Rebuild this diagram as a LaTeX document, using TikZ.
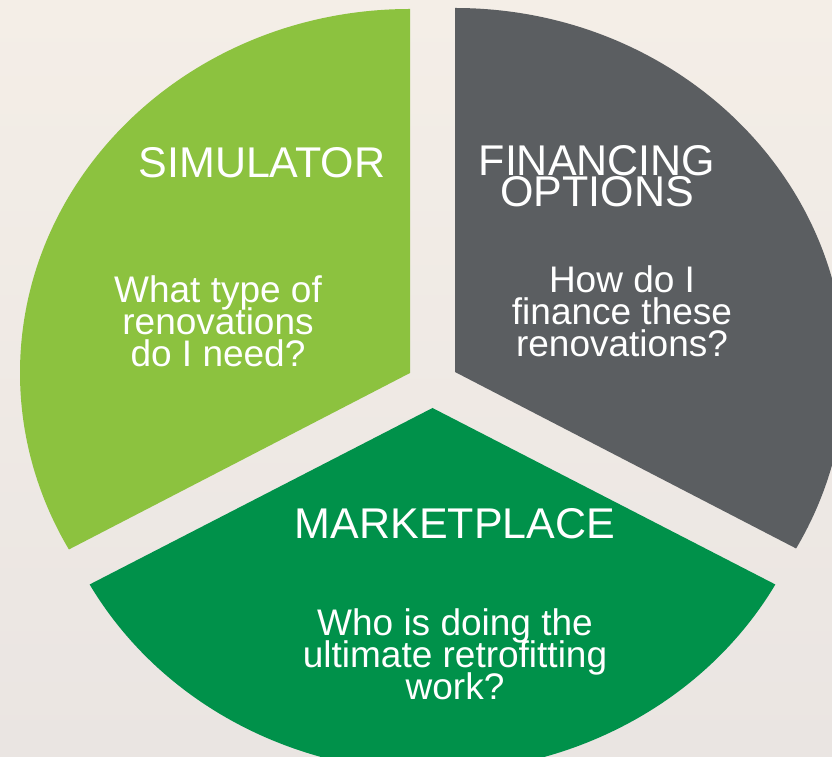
\documentclass[tikz,border=0pt]{standalone}
\usepackage{fontspec}
\setmainfont{Liberation Sans}
\usetikzlibrary{positioning}

\definecolor{simgreen}{HTML}{8CC23F}
\definecolor{fingray}{HTML}{5B5E61}
\definecolor{mktgreen}{HTML}{00914A}
\definecolor{bgtop}{HTML}{F4EEE7}
\definecolor{bgbottom}{HTML}{EAE5E2}

\begin{document}
\begin{tikzpicture}[x=1pt,y=1pt]
\lineskiplimit=-50pt\relax

% Define styles
\tikzstyle{title} = [text=white, align=center, inner sep=0pt, font=\fontsize{43}{31}\selectfont]
\tikzstyle{question} = [text=white, align=center, inner sep=0pt, font=\fontsize{37}{32}\selectfont]

% Background
\shade[top color=bgtop, bottom color=bgbottom] (0,0) rectangle (832,757);
\useasboundingbox (0,0) rectangle (832,757);

% Slice tips
\coordinate (simtip) at (410,384);
\coordinate (fintip) at (455,385);
\coordinate (mkttip) at (432.5,349);

% Draw slices
\fill[simgreen] (simtip) -- ++(90:390 and 364) arc[start angle=90, end angle=209, x radius=390, y radius=364] -- cycle;
\fill[fingray] (fintip) -- ++(90:390 and 364) arc[start angle=90, end angle=-29, x radius=390, y radius=364] -- cycle;
\fill[mktgreen] (mkttip) -- ++(209:392 and 364) arc[start angle=209, end angle=331, x radius=392, y radius=364] -- cycle;

% Define nodes
\node (sim) [title] at (262,594) {SIMULATOR};
\node (fin) [title] at (597,581) {FINANCING\\OPTIONS};
\node (mkt) [title] at (455,233) {MARKETPLACE};

\node (simq) [question] at (218,436) {What type of\\renovations\\do I need?};
\node (finq) [question] at (622,446) {How do I\\finance these\\renovations?};
\node (mktq) [question] at (455,103) {Who is doing the\\ultimate retrofitting\\work?};

\end{tikzpicture}
\end{document}
